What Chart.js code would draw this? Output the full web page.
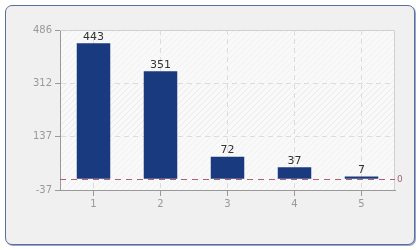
<!DOCTYPE html>
<html>
<head>
<meta charset="utf-8">
<script src="https://cdn.jsdelivr.net/npm/chart.js@4"></script>
<style>
  html, body { margin: 0; padding: 0; background: #fff; }
  #wrap { position: relative; width: 420px; height: 250px; }
  #frame {
    position: absolute; left: 5px; top: 5px; width: 408px; height: 238px;
    border: 1px solid #5d6d9e; border-radius: 7px; background: #f0f0f0;
    box-shadow: 1px 1px 0 #9aa6c8;
  }
  canvas { position: absolute; left: 0; top: 0; }
</style>
</head>
<body>
<div id="wrap">
  <div id="frame"></div>
  <canvas id="myChart" width="420" height="250"></canvas>
</div>
<script>
const labels = ['1', '2', '3', '4', '5'];
const values = [443, 351, 72, 37, 7];
const yTicks = [-37, 137, 312, 486];

// faint diagonal hatch for the plot area
function hatch(alpha) {
  const c = document.createElement('canvas');
  c.width = 6; c.height = 6;
  const g = c.getContext('2d');
  g.strokeStyle = 'rgba(0,0,0,' + alpha + ')';
  g.lineWidth = 1;
  g.beginPath();
  g.moveTo(0, 6); g.lineTo(6, 0);
  g.moveTo(-1, 1); g.lineTo(1, -1);
  g.moveTo(5, 7); g.lineTo(7, 5);
  g.stroke();
  return c;
}

const plotBg = {
  id: 'plotBg',
  beforeDraw(chart) {
    const { ctx, chartArea: a, scales } = chart;
    ctx.save();
    ctx.fillStyle = '#f9f9f9';
    ctx.fillRect(a.left, a.top, a.right - a.left, a.bottom - a.top);
    const y = scales.y;
    for (let i = 0; i < yTicks.length - 1; i++) {
      const top = y.getPixelForValue(yTicks[i + 1]);
      const bot = y.getPixelForValue(yTicks[i]);
      ctx.fillStyle = ctx.createPattern(hatch(i % 2 ? 0.06 : 0.035), 'repeat');
      ctx.fillRect(a.left, top, a.right - a.left, bot - top);
    }
    ctx.restore();
  },
  afterDraw(chart) {
    const { ctx, chartArea: a, scales } = chart;
    ctx.save();
    // light frame on top/right of plot
    ctx.strokeStyle = '#d0d0d0';
    ctx.lineWidth = 1;
    ctx.beginPath();
    ctx.moveTo(a.left, a.top + 0.5); ctx.lineTo(a.right - 0.5, a.top + 0.5);
    ctx.lineTo(a.right - 0.5, a.bottom);
    ctx.stroke();
    // zero line
    const y0 = Math.round(scales.y.getPixelForValue(0)) + 0.5;
    ctx.strokeStyle = '#b06070';
    ctx.setLineDash([6, 5]);
    ctx.beginPath();
    ctx.moveTo(a.left, y0); ctx.lineTo(a.right, y0);
    ctx.stroke();
    ctx.setLineDash([]);
    ctx.fillStyle = '#b06070';
    ctx.font = '9px "DejaVu Sans"';
    ctx.textBaseline = 'middle';
    ctx.fillText('0', a.right + 2, y0);
    // value labels
    ctx.fillStyle = '#333';
    ctx.font = '11px "DejaVu Sans"';
    ctx.textAlign = 'center';
    ctx.textBaseline = 'bottom';
    const meta = chart.getDatasetMeta(0);
    meta.data.forEach((bar, i) => {
      ctx.fillText(String(values[i]), bar.x, bar.y - 1);
    });
    ctx.restore();
  }
};

const data = {
  labels: labels,
  datasets: [{
    data: values,
    backgroundColor: '#1a3a80',
    borderWidth: 0,
    barPercentage: 0.5,
    categoryPercentage: 1
  }]
};

const config = {
  type: 'bar',
  data: data,
  plugins: [plotBg],
  options: {
    responsive: false,
    animation: false,
    layout: {
      padding: { left: 0, right: 25, top: 30, bottom: 40 }
    },
    scales: {
      y: {
        min: -37,
        max: 486,
        afterFit(s) { s.width = 60; },
        afterBuildTicks(s) { s.ticks = yTicks.map(v => ({ value: v })); },
        ticks: {
          color: '#999',
          font: { family: 'DejaVu Sans', size: 10 },
          padding: 3
        },
        grid: {
          color: ctx => (ctx.index === 0 || ctx.index === yTicks.length - 1) ? 'rgba(0,0,0,0)' : '#dcdcdc',
          tickColor: '#999',
          tickLength: 5,
          tickBorderDash: [1, 0]
        },
        border: { color: '#999', dash: [5, 4] }
      },
      x: {
        afterFit(s) { s.height = 20; },
        ticks: {
          color: '#999',
          font: { family: 'DejaVu Sans', size: 10 },
          padding: 2
        },
        grid: {
          offset: false,
          color: '#dcdcdc',
          tickColor: '#999',
          tickLength: 6,
          tickBorderDash: [1, 0]
        },
        border: { color: '#999', dash: [5, 4] }
      }
    },
    plugins: {
      legend: { display: false },
      tooltip: { enabled: false }
    }
  }
};

var myChart = new Chart(
  document.getElementById('myChart'),
  config
);
</script>
</body>
</html>
